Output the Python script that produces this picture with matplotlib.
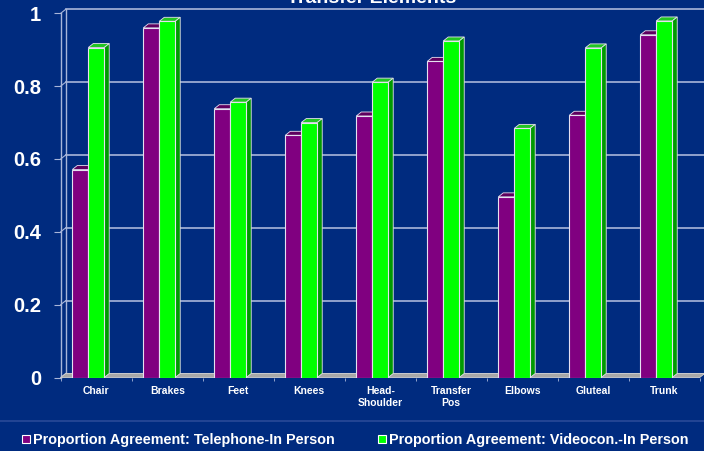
import numpy as np
import matplotlib
matplotlib.use("Agg")
import matplotlib.pyplot as plt
from matplotlib.patches import Polygon, Patch
from matplotlib.lines import Line2D

plt.rcParams['font.family'] = ['Liberation Sans', 'DejaVu Sans']

categories = ["Chair", "Brakes", "Feet", "Knees", "Head-\nShoulder",
              "Transfer\nPos", "Elbows", "Gluteal", "Trunk"]
telephone = [0.571, 0.960, 0.738, 0.665, 0.718, 0.868, 0.496, 0.720, 0.941]
videocon = [0.906, 0.978, 0.756, 0.700, 0.811, 0.924, 0.684, 0.905, 0.979]
series_names = ["Proportion Agreement: Telephone-In Person",
                "Proportion Agreement: Videocon.-In Person"]
yticks = [0, 0.2, 0.4, 0.6, 0.8, 1]
ytick_labels = ["0", "0.2", "0.4", "0.6", "0.8", "1"]

bg = "#002B7F"
grid_c = "#A9B6DA"
purple = ("#800080", "#5E005E", "#4A004A")   # front, top, side
green = ("#00FF00", "#22C522", "#009A00")
edge = "#E6E0F0"

W, H = 704, 451
fig = plt.figure(figsize=(W / 100, H / 100), dpi=100, facecolor=bg)
# front plane: x 60.7..699.7 px, y=0 at 377.5 px, y=1 at 13.3 px (from top)
ax = fig.add_axes([60.7 / W, (H - 377.5) / H, 639 / W, 364.2 / H])
ax.set_facecolor("none")
n = len(categories)
ax.set_xlim(0, n)
ax.set_ylim(0, 1)

dx = 5 / 71.0      # depth offset in data units
dy = 4 / 364.2

# floor
ax.add_patch(Polygon([(0, 0), (n, 0), (n + dx, dy), (dx, dy)], closed=True,
                     facecolor="#A8A8A8", edgecolor="#D0D0D0", lw=0.6, zorder=1,
                     clip_on=False))
# back wall grid
for v in yticks:
    ax.plot([dx, n + dx], [v + dy, v + dy], color=grid_c, lw=1.2, zorder=0.5,
            clip_on=False)
    ax.plot([0, dx], [v, v + dy], color=grid_c, lw=0.8, zorder=0.6, clip_on=False)
ax.plot([dx, dx], [dy, 1 + dy], color=grid_c, lw=1.0, zorder=0.6, clip_on=False)
ax.plot([0, 0], [0, 1], color=grid_c, lw=1.0, zorder=0.6, clip_on=False)

bw = 0.225
x = np.arange(n)


def draw_bars(left, vals, cols, z):
    ax.bar(left, vals, width=bw, align="edge", color=cols[0], edgecolor=edge,
           linewidth=0.8, zorder=z + 0.2)
    for l, v in zip(left, vals):
        top = [(l, v), (l + bw, v), (l + bw + dx, v + dy), (l + dx, v + dy)]
        side = [(l + bw, 0), (l + bw + dx, dy), (l + bw + dx, v + dy), (l + bw, v)]
        ax.add_patch(Polygon(top, closed=True, facecolor=cols[1], edgecolor=edge,
                             lw=0.6, zorder=z, clip_on=False))
        ax.add_patch(Polygon(side, closed=True, facecolor=cols[2], edgecolor=edge,
                             lw=0.6, zorder=z, clip_on=False))


draw_bars(x + 0.163, telephone, purple, 2)
draw_bars(x + 0.163 + bw, videocon, green, 3)

for s in ax.spines.values():
    s.set_visible(False)
ax.set_yticks(yticks)
ax.set_yticklabels(ytick_labels, color="white", fontsize=14.5, fontweight="bold")
ax.tick_params(axis="y", length=5, color=grid_c, width=0.8, pad=9)
ax.set_xticks(x + 0.5)
ax.set_xticklabels(categories, color="white", fontsize=7.5, fontweight="bold",
                   linespacing=1.3)
ax.tick_params(axis="x", length=0, pad=6)
ax.set_xticks(np.arange(n + 1), minor=True)
ax.tick_params(axis="x", which="minor", length=2.5, color=grid_c, width=0.6)

fig.text(372 / W, 1 - 3 / H, "Transfer Elements", color="white", fontsize=14,
         fontweight="bold", ha="center", va="baseline")

# separator above legend
fig.add_artist(Line2D([0, 1], [1 - 421 / H] * 2, transform=fig.transFigure,
                      color="#2A4A98", lw=1.2))

handles = [Patch(facecolor=purple[0], edgecolor="white", lw=0.8),
           Patch(facecolor=green[0], edgecolor="white", lw=0.8)]
leg = fig.legend(handles, series_names, loc="center left", ncol=2,
                 bbox_to_anchor=(22 / W, 1 - 440 / H), frameon=False,
                 handlelength=0.55, handleheight=0.55, handletextpad=0.2,
                 columnspacing=3.0, borderpad=0, borderaxespad=0,
                 prop={"size": 10.4, "weight": "bold"})
for t in leg.get_texts():
    t.set_color("white")

fig.savefig("out.png", dpi=100, facecolor=bg)
